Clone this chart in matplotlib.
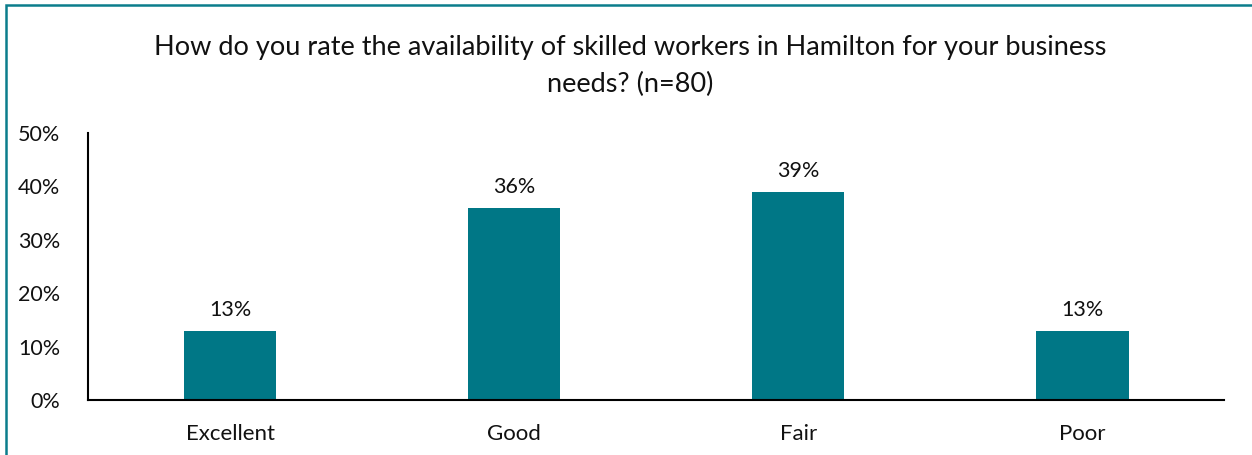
import matplotlib
matplotlib.use("Agg")
import matplotlib.pyplot as plt
from matplotlib.patches import Rectangle
from matplotlib.ticker import FuncFormatter

categories = ["Excellent", "Good", "Fair", "Poor"]
shares = [13, 36, 39, 13]
yticks = [0, 10, 20, 30, 40, 50]

teal = "#007786"
plt.rcParams["font.family"] = ["Lato", "DejaVu Sans"]

fig = plt.figure(figsize=(12.52, 4.55), dpi=100)
ax = fig.add_axes([0.0703, 0.1209, 0.9077, 0.5868])

x = range(len(categories))
ax.bar(x, shares, width=0.325, color=teal)
for xi, v in zip(x, shares):
    ax.text(xi, v + 2.0, f"{v}%", ha="center", va="bottom", fontsize=15.5, color="#111111")

ax.set_xlim(-0.5, len(categories) - 0.5)
ax.set_ylim(0, 50)
ax.set_yticks(yticks)
ax.yaxis.set_major_formatter(FuncFormatter(lambda v, _: f"{v:.0f}%"))
ax.set_xticks(list(x))
ax.set_xticklabels(categories)
ax.tick_params(axis="both", length=0, colors="#111111")
ax.tick_params(axis="x", pad=17, labelsize=16)
ax.tick_params(axis="y", pad=20, labelsize=15.5)
for side in ("top", "right"):
    ax.spines[side].set_visible(False)
for side in ("left", "bottom"):
    ax.spines[side].set_linewidth(1.5)
    ax.spines[side].set_color("black")

fig.text(0.503, 0.855,
         "How do you rate the availability of skilled workers in Hamilton for your business\nneeds? (n=80)",
         ha="center", va="center", fontsize=19.5, linespacing=1.6, color="#111111")

# outer frame around the chart area
fig.patches.append(Rectangle((0.0044, -0.01), 1.2, 0.993 - (-0.01) - 0.003,
                             transform=fig.transFigure, fill=False,
                             edgecolor="#0B7D8C", linewidth=1.8))

fig.savefig("out.png", dpi=100)
